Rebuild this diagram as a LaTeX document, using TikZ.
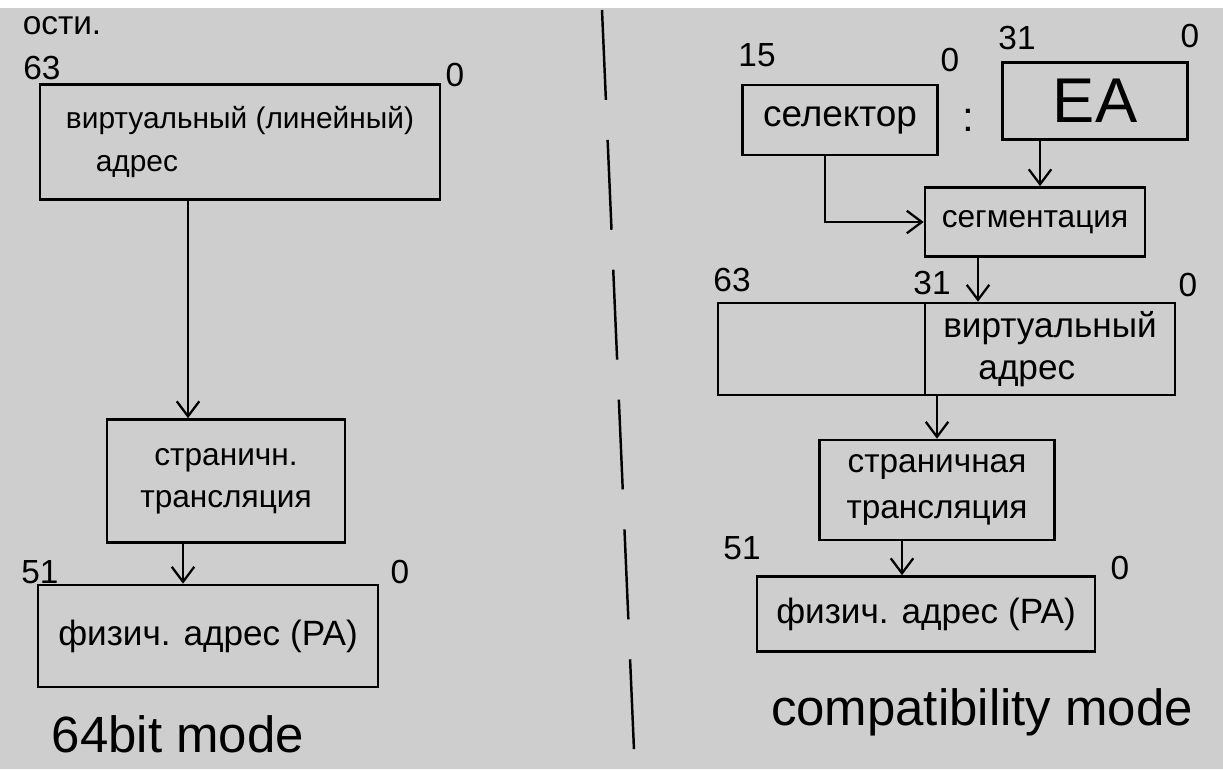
\documentclass[tikz,border=0pt]{standalone}
\usepackage{fontspec}
\setmainfont{Liberation Sans}
\usetikzlibrary{arrows.meta,positioning}
\definecolor{paper}{RGB}{206,206,206}
\tikzset{
  box/.style={rectangle,draw,line width=1.5pt,font=\fontsize{18}{24}\selectfont,align=center},
  num/.style={font=\fontsize{19}{22}\selectfont},
  arr/.style={line width=1.3pt,-{Straight Barb[length=3mm,width=4.5mm]}},
  mode/.style={font=\fontsize{29}{32}\selectfont}
}
\begin{document}
\begin{tikzpicture}[x=0.02cm,y=-0.02cm]
	\useasboundingbox (0,0) rectangle (1223,769);
	\fill[white] (0,0) rectangle (1223,769);
	\fill[paper] (0,8) rectangle (1223,769);
	% Place nodes (64 bit mode)
	\node [num] (top) at (62,26) {ости.};
	\node [num] (l63) at (42,68) {63};
	\node [num] (l0) at (455,75) {0};
	\node [box,minimum width=8cm,minimum height=2.3cm,align=left,font=\fontsize{17}{24}\selectfont] (virt) at (240,142) {виртуальный (линейный)\\\quad адрес};
	\node [box,minimum width=4.76cm,minimum height=2.46cm] (page) at (226,481) {страничн.\\трансляция};
	\node [num] (l51) at (40,572) {51};
	\node [num] (l0b) at (400,572) {0};
	\node [box,minimum width=6.8cm,minimum height=2.04cm,font=\fontsize{20}{24}\selectfont] (phys) at (208,636) {физич. адрес (PA)};
	\node [mode] (m64) at (178,734) {64bit mode};
	% Place nodes (compatibility mode)
	\node [num] (r15) at (757,55) {15};
	\node [num] (r0) at (950,60) {0};
	\node [box,minimum width=3.9cm,minimum height=1.4cm,font=\fontsize{21}{24}\selectfont] (sel) at (840,120) {селектор};
	\node [num,font=\fontsize{24}{26}\selectfont] (colon) at (968,120) {:};
	\node [num] (r31) at (1017,38) {31};
	\node [num] (r0b) at (1190,36) {0};
	\node [box,minimum width=3.7cm,minimum height=1.54cm,font=\fontsize{36}{40}\selectfont] (ea) at (1095,101) {EA};
	\node [box,minimum width=4.4cm,minimum height=1.38cm] (segm) at (1035,222) {сегментация};
	\node [num] (r63) at (732,280) {63};
	\node [num] (r31b) at (932,283) {31};
	\node [num] (r0c) at (1188,285) {0};
	\node [box,minimum width=4.14cm,minimum height=1.84cm] (high) at (821.5,349) {};
	\node [box,minimum width=5cm,minimum height=1.84cm,align=left,font=\fontsize{20}{24}\selectfont] (vaddr) at (1050,349) {виртуальный\\\quad адрес};
	\node [box,minimum width=4.7cm,minimum height=2cm,font=\fontsize{19}{26}\selectfont] (page2) at (937,490) {страничная\\трансляция};
	\node [num] (r51) at (742,548) {51};
	\node [num] (r0d) at (1120,568) {0};
	\node [box,minimum width=6.76cm,minimum height=1.5cm,font=\fontsize{20}{24}\selectfont] (phys2) at (926,614) {физич. адрес (PA)};
	\node [mode] (mcomp) at (982,712) {compatibility mode};
	% Arrows
	\draw [arr] ([xshift=-1.04cm]virt.south) -- ([xshift=-1.04cm]virt.south |- page.north);
	\draw [arr] ([xshift=-0.86cm]page.south) -- ([xshift=-0.86cm]page.south |- phys.north);
	\draw [arr] ([xshift=-1.1cm]ea.south) -- ([xshift=-1.1cm]ea.south |- segm.north);
	\draw [arr] ([xshift=-0.3cm]sel.south) |- (segm.west);
	\draw [arr] ([xshift=-1.14cm]segm.south) -- ([xshift=-1.14cm]segm.south |- vaddr.north);
	\draw [arr] (page2.north |- vaddr.south) -- (page2.north);
	\draw [arr] ([xshift=-0.7cm]page2.south) -- ([xshift=-0.7cm]page2.south |- phys2.north);
	% divider
	\draw [line width=1.4pt,dash pattern=on 1.8cm off 0.8cm] (602,10) -- (634,750);
\end{tikzpicture}
\end{document}
